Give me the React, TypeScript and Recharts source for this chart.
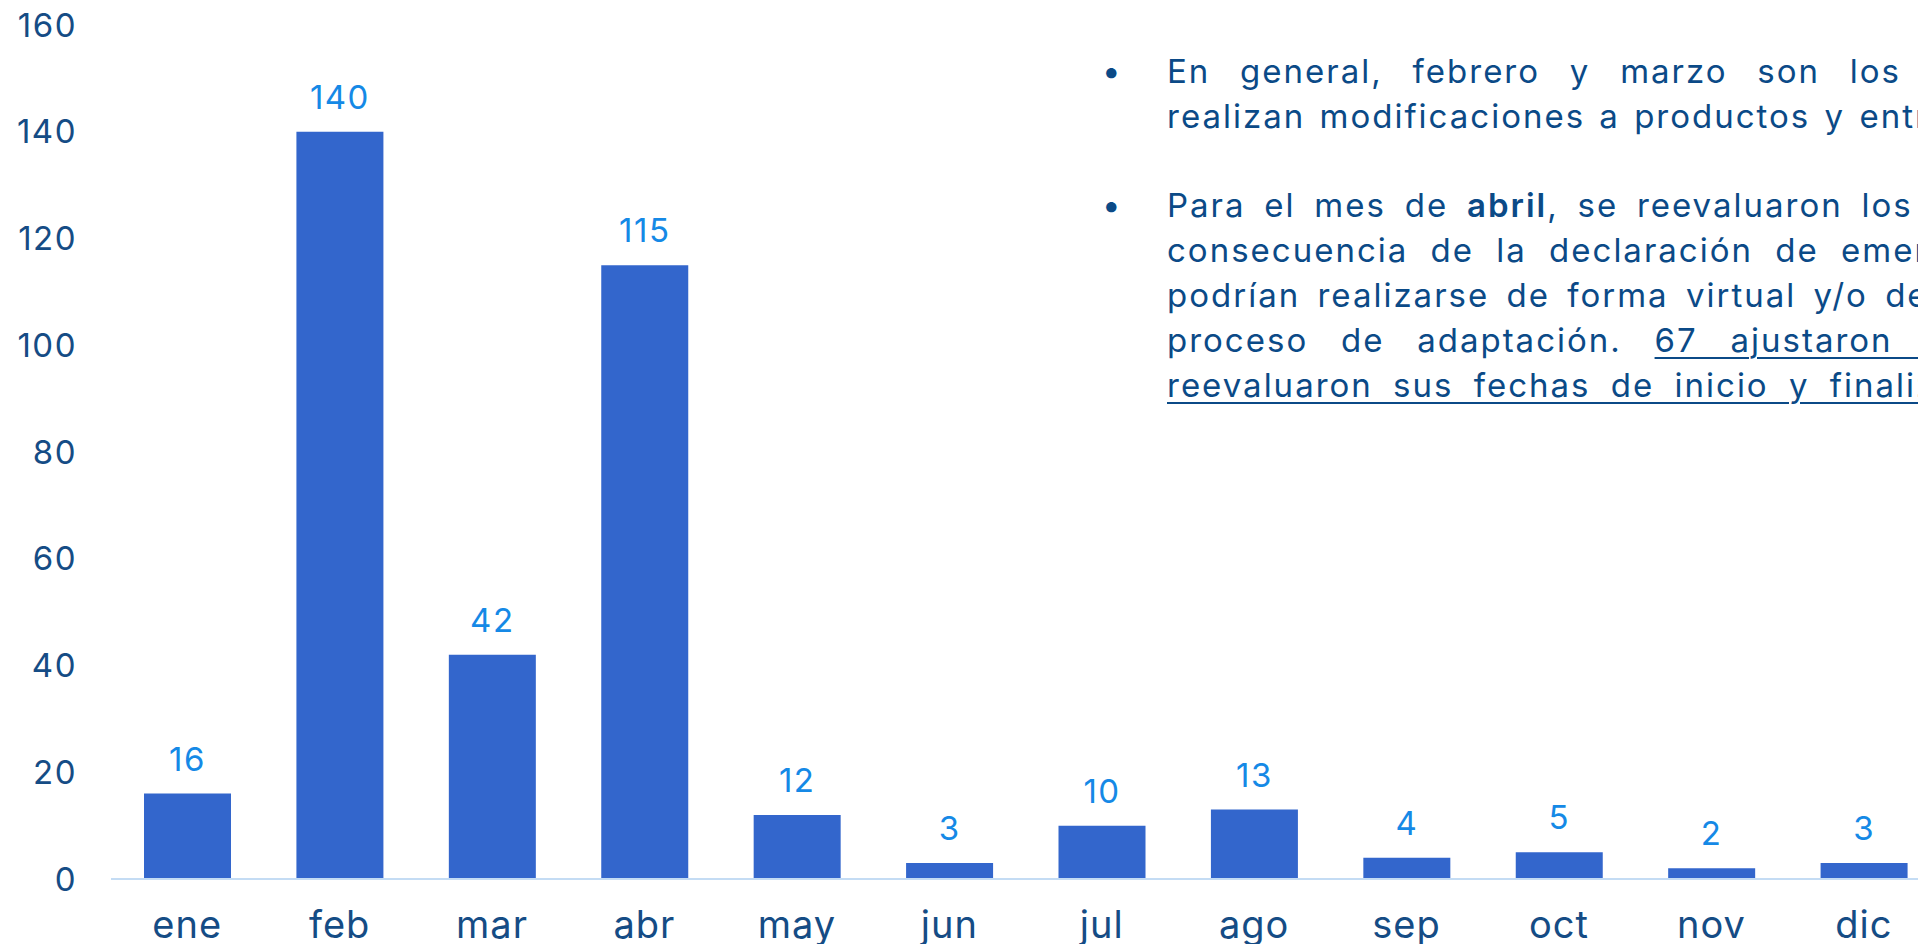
import { BarChart, Bar, XAxis, YAxis, LabelList } from "recharts";

const months = ["ene", "feb", "mar", "abr", "may", "jun", "jul", "ago", "sep", "oct", "nov", "dic"];
const changes = [16, 140, 42, 115, 12, 3, 10, 13, 4, 5, 2, 3];
const yTicks = [0, 20, 40, 60, 80, 100, 120, 140, 160];

const data = months.map((m, i) => ({ month: m, value: changes[i] }));

const FONT = "Inter, 'Open Sans', sans-serif";
const NAVY = "#154c85";
const TEXT = "#0b4a87";

// annotation lines (the source slide is cropped on the right), ws = word spacing to mimic justify
const para1 = [
  { text: "En general, febrero y marzo son los meses en los que más se", ws: 18.5 },
  { text: "realizan modificaciones a productos y entregables.", ws: 3 },
];
const para2 = [
  { text: "Para el mes de ", bold: "abril", rest: ", se reevaluaron los entregables como", ws: 7.5 },
  { text: "consecuencia de la declaración de emergencia, ya que", ws: 11 },
  { text: "podrían realizarse de forma virtual y/o debían pasar por un", ws: 6 },
  { text: "proceso de adaptación. ", under: "67 ajustaron sus productos y", ws: 21.5 },
  { text: "", under: "reevaluaron sus fechas de inicio y finalización.", ws: 9 },
];

function Line({ l }: { l: any }) {
  return (
    <div style={{ whiteSpace: "nowrap", wordSpacing: l.ws, height: 45, lineHeight: "45px" }}>
      {l.text}
      {l.bold && <b style={{ fontWeight: 600 }}>{l.bold}</b>}
      {l.rest}
      {l.under && <span style={{ textDecoration: "underline", textUnderlineOffset: 5, textDecorationThickness: 1.5 }}>{l.under}</span>}
    </div>
  );
}

export default function App() {
  return (
    <div style={{ position: "fixed", left: 0, top: 0, width: 1918, height: 944, overflow: "hidden", background: "#fff" }}>
      <BarChart width={1940} height={944} data={data} margin={{ top: 25, right: 0, left: 0, bottom: 0 }}>
        <XAxis
          dataKey="month"
          axisLine={{ stroke: "#c4dcf4", strokeWidth: 2 }}
          tickLine={false}
          tickSize={0}
          tickMargin={32}
          height={65}
          interval={0}
          tick={{ fill: NAVY, fontSize: 38, fontFamily: FONT, letterSpacing: 1 }}
        />
        <YAxis
          domain={[0, 160]}
          ticks={yTicks}
          axisLine={false}
          tickLine={false}
          tickSize={0}
          tickMargin={34}
          width={111}
          tick={{ fill: NAVY, fontSize: 33, fontFamily: FONT, letterSpacing: 1.5 }}
        />
        <Bar dataKey="value" fill="#3366cc" barSize={87} isAnimationActive={false}>
          <LabelList
            dataKey="value"
            position="top"
            offset={23}
            fill="#1589e6"
            fontSize={33}
            fontFamily={FONT}
            style={{ letterSpacing: 1.5 }}
          />
        </Bar>
      </BarChart>
      <div style={{ position: "absolute", left: 1102, top: 49, width: 1200, fontFamily: FONT, fontSize: 33, letterSpacing: 2, color: TEXT }}>
        <div style={{ position: "absolute", left: 0, top: 0, lineHeight: "45px" }}>•</div>
        <div style={{ position: "absolute", left: 65, top: 0 }}>
          {para1.map((l, i) => (
            <Line key={i} l={l} />
          ))}
        </div>
        <div style={{ position: "absolute", left: 0, top: 134, lineHeight: "45px" }}>•</div>
        <div style={{ position: "absolute", left: 65, top: 134 }}>
          {para2.map((l, i) => (
            <Line key={i} l={l} />
          ))}
        </div>
      </div>
    </div>
  );
}
